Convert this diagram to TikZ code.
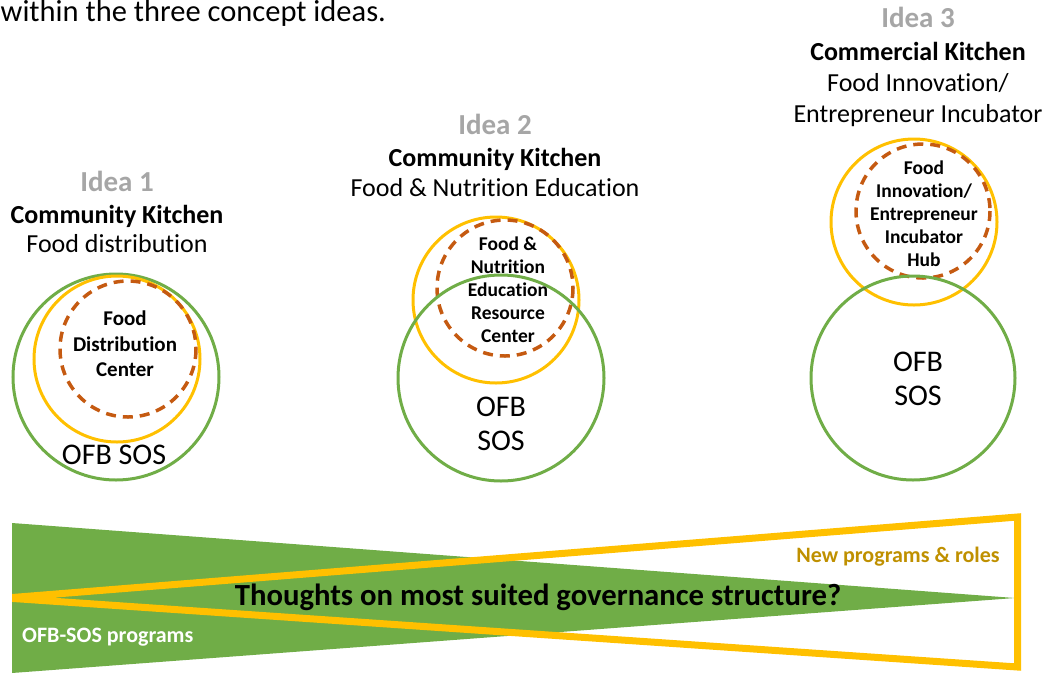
\documentclass[tikz,border=0pt]{standalone}
\usepackage{fontspec}
\setmainfont{Carlito}[Ligatures={NoCommon},Contextuals={NoAlternate}]
\begin{document}
\definecolor{ofbgreen}{HTML}{70AD47}
\definecolor{newyellow}{HTML}{FFC000}
\definecolor{hubbrown}{HTML}{C55A11}
\definecolor{ideagray}{HTML}{A6A6A6}
\definecolor{roleyellow}{HTML}{BF9000}
\begin{tikzpicture}[x=1pt,y=-1pt,
  greenring/.style={draw=ofbgreen,line width=3pt},
  yellowring/.style={draw=newyellow,line width=3pt},
  hubring/.style={draw=hubbrown,line width=3.5pt,dash pattern=on 10pt off 7pt},
  idealabel/.style={anchor=base,text=ideagray,font=\fontsize{29}{32}\selectfont\bfseries},
  kitchenlabel/.style={anchor=base,font=\fontsize{26}{30}\selectfont\bfseries},
  purposelabel/.style={anchor=base,font=\fontsize{26}{31}\selectfont},
  hubtext/.style={align=center,inner sep=0pt,font=\fontsize{19.5}{23}\selectfont\bfseries},
  ofbtext/.style={align=center,inner sep=0pt,font=\fontsize{30}{34}\selectfont},
]
\useasboundingbox (0,0) rectangle (1047,673);

% heading fragment
\node[anchor=base west,inner sep=0pt,font=\fontsize{30.5}{34}\selectfont] (intro) at (0.5,21.5) {within the three concept ideas.};

% ---- Idea 1 ----
\node[idealabel] (i1) at (117,191) {Idea 1};
\node[kitchenlabel] (k1) at (117,223) {Community Kitchen};
\node[purposelabel] (p1) at (117,252) {Food distribution};
\draw[greenring] (116,377) circle[radius=103];
\draw[yellowring] (117,359) circle[radius=83];
\draw[hubring] (128,349) circle[radius=68];
\node[hubtext,font=\fontsize{21}{25.5}\selectfont\bfseries] (h1) at (125,344) {Food\\Distribution\\Center};
\node[ofbtext] (o1) at (114,455) {OFB SOS};

% ---- Idea 2 ----
\node[idealabel] (i2) at (495,134) {Idea 2};
\node[kitchenlabel] (k2) at (495,166) {Community Kitchen};
\node[purposelabel] (p2) at (495,196) {Food \& Nutrition Education};
\draw[yellowring] (496,300) circle[radius=83];
\draw[hubring] (505,288) circle[radius=68];
\draw[greenring] (501,378) circle[radius=103];
\node[hubtext] (h2) at (508,290) {Food \&\\Nutrition\\Education\\Resource\\Center};
\node[ofbtext] (o2) at (501,424) {OFB\\SOS};

% ---- Idea 3 ----
\node[idealabel] (i3) at (918,27) {Idea 3};
\node[kitchenlabel] (k3) at (918,60) {Commercial Kitchen};
\node[purposelabel] (p3) at (918,91) {Food Innovation/};
\node[purposelabel] (q3) at (918,122) {Entrepreneur Incubator};
\draw[yellowring] (914,222) circle[radius=83];
\draw[hubring] (923,211) circle[radius=67];
\draw[greenring] (913,378) circle[radius=102];
\node[hubtext] (h3) at (924,214) {Food\\Innovation/\\Entrepreneur\\Incubator\\Hub};
\node[ofbtext] (o3) at (918,379) {OFB\\SOS};

% ---- governance wedges ----
\fill[ofbgreen] (12,523) -- (1015,598) -- (12,673) -- cycle;
\begin{scope}
  \clip (12,500) rectangle (1047,673);
  \draw[newyellow,line width=7pt,line join=miter,miter limit=30] (6,598) -- (1017.5,517) -- (1017.5,667) -- cycle;
\end{scope}
\node[font=\fontsize{30.7}{34}\selectfont\bfseries] (gov) at (538,597) {Thoughts on most suited governance structure?};
\node[font=\fontsize{22}{25}\selectfont\bfseries,text=roleyellow] (new) at (898,557) {New programs \& roles};
\node[anchor=west,inner sep=0pt,font=\fontsize{22}{25}\selectfont\bfseries,text=white] (old) at (22,637) {OFB-SOS programs};
\end{tikzpicture}
\end{document}
